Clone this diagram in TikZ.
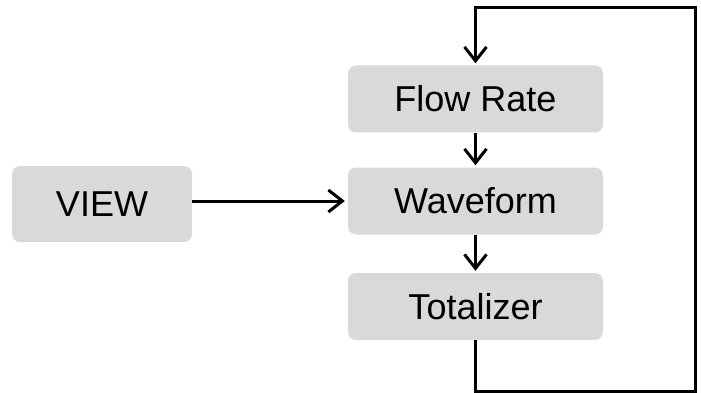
\documentclass[tikz,border=0pt]{standalone}
\usepackage{fontspec}
\setmainfont{Liberation Sans}
\usetikzlibrary{arrows.meta}
\definecolor{boxgray}{HTML}{D9D9D9}
\begin{document}
\begin{tikzpicture}[x=1pt,y=-1pt,
  box/.style={fill=boxgray, rounded corners=8pt, minimum width=255pt, minimum height=67pt, inner sep=0pt, font=\fontsize{36}{40}\selectfont},
  conn/.style={line width=3pt, line join=miter},
  arr/.style={conn, -{Straight Barb[length=14pt,width=22pt,line width=3pt]}}]
\useasboundingbox (0,0) rectangle (701,393);
\node[box] (flow) at (475.5,99) {Flow Rate};
\node[box] (wave) at (475.5,201) {Waveform};
\node[box] (tot) at (475.5,306.5) {Totalizer};
\node[box, minimum width=180pt, minimum height=76pt] (view) at (102,204) {VIEW};
\coordinate (br) at (695,391);
\coordinate (tr) at (695,8);
\draw[arr, shorten >=3pt] (view.east |- wave.west) -- (wave.west);
\draw[arr, shorten >=2pt] (flow.south) -- (wave.north);
\draw[arr, shorten >=2pt] (wave.south) -- (tot.north);
\draw[arr, shorten >=2pt] (tot.south) -- (tot.south |- br) -- (br) -- (tr) -- (flow.north |- tr) -- (flow.north);
\end{tikzpicture}
\end{document}
